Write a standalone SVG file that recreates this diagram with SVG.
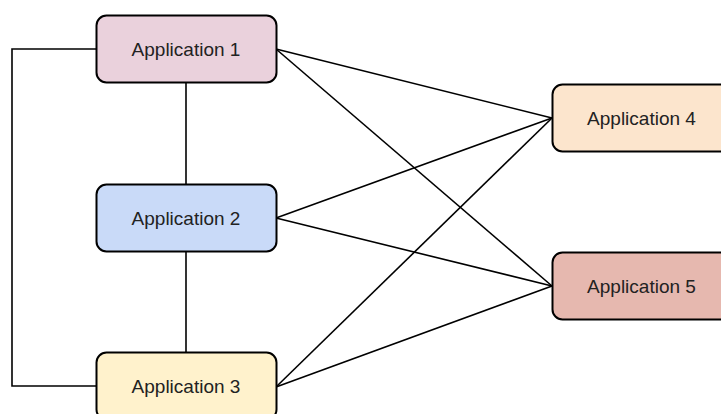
<svg xmlns="http://www.w3.org/2000/svg" width="721" height="414" viewBox="0 0 721 414">
<style>
.box{stroke:#000;stroke-width:2}
.lbl{font-family:"Liberation Sans",Arial,sans-serif;font-size:19px;fill:#222;text-anchor:middle;dominant-baseline:central}
.c{fill:none;stroke:#000;stroke-width:1.6}
</style>
<rect width="721" height="414" fill="#fff"/>
<g id="connectors">
<polyline class="c" points="96,49 12,49 12,386 96,386"/>
<line class="c" x1="186" y1="83" x2="186" y2="184"/>
<line class="c" x1="186" y1="252" x2="186" y2="353"/>
<line class="c" x1="276" y1="49" x2="552" y2="118"/>
<line class="c" x1="276" y1="49" x2="552" y2="286"/>
<line class="c" x1="276" y1="218" x2="552" y2="118"/>
<line class="c" x1="276" y1="218" x2="552" y2="286"/>
<line class="c" x1="276" y1="387" x2="552" y2="118"/>
<line class="c" x1="276" y1="387" x2="552" y2="286"/>
</g>
<g id="app1"><rect class="box" x="96.5" y="15.5" width="180" height="67" rx="10" fill="#ead1dc"/><text class="lbl" x="186" y="49">Application 1</text></g>
<g id="app2"><rect class="box" x="96.5" y="184.5" width="180" height="67" rx="10" fill="#c9daf8"/><text class="lbl" x="186" y="218">Application 2</text></g>
<g id="app3"><rect class="box" x="96.5" y="352.5" width="180" height="67" rx="10" fill="#fff2cc"/><text class="lbl" x="186" y="386">Application 3</text></g>
<g id="app4"><rect class="box" x="552.5" y="84.5" width="180" height="67" rx="10" fill="#fce5cd"/><text class="lbl" x="641.5" y="118">Application 4</text></g>
<g id="app5"><rect class="box" x="552.5" y="252.5" width="180" height="67" rx="10" fill="#e6b8af"/><text class="lbl" x="641.5" y="286">Application 5</text></g>
</svg>
